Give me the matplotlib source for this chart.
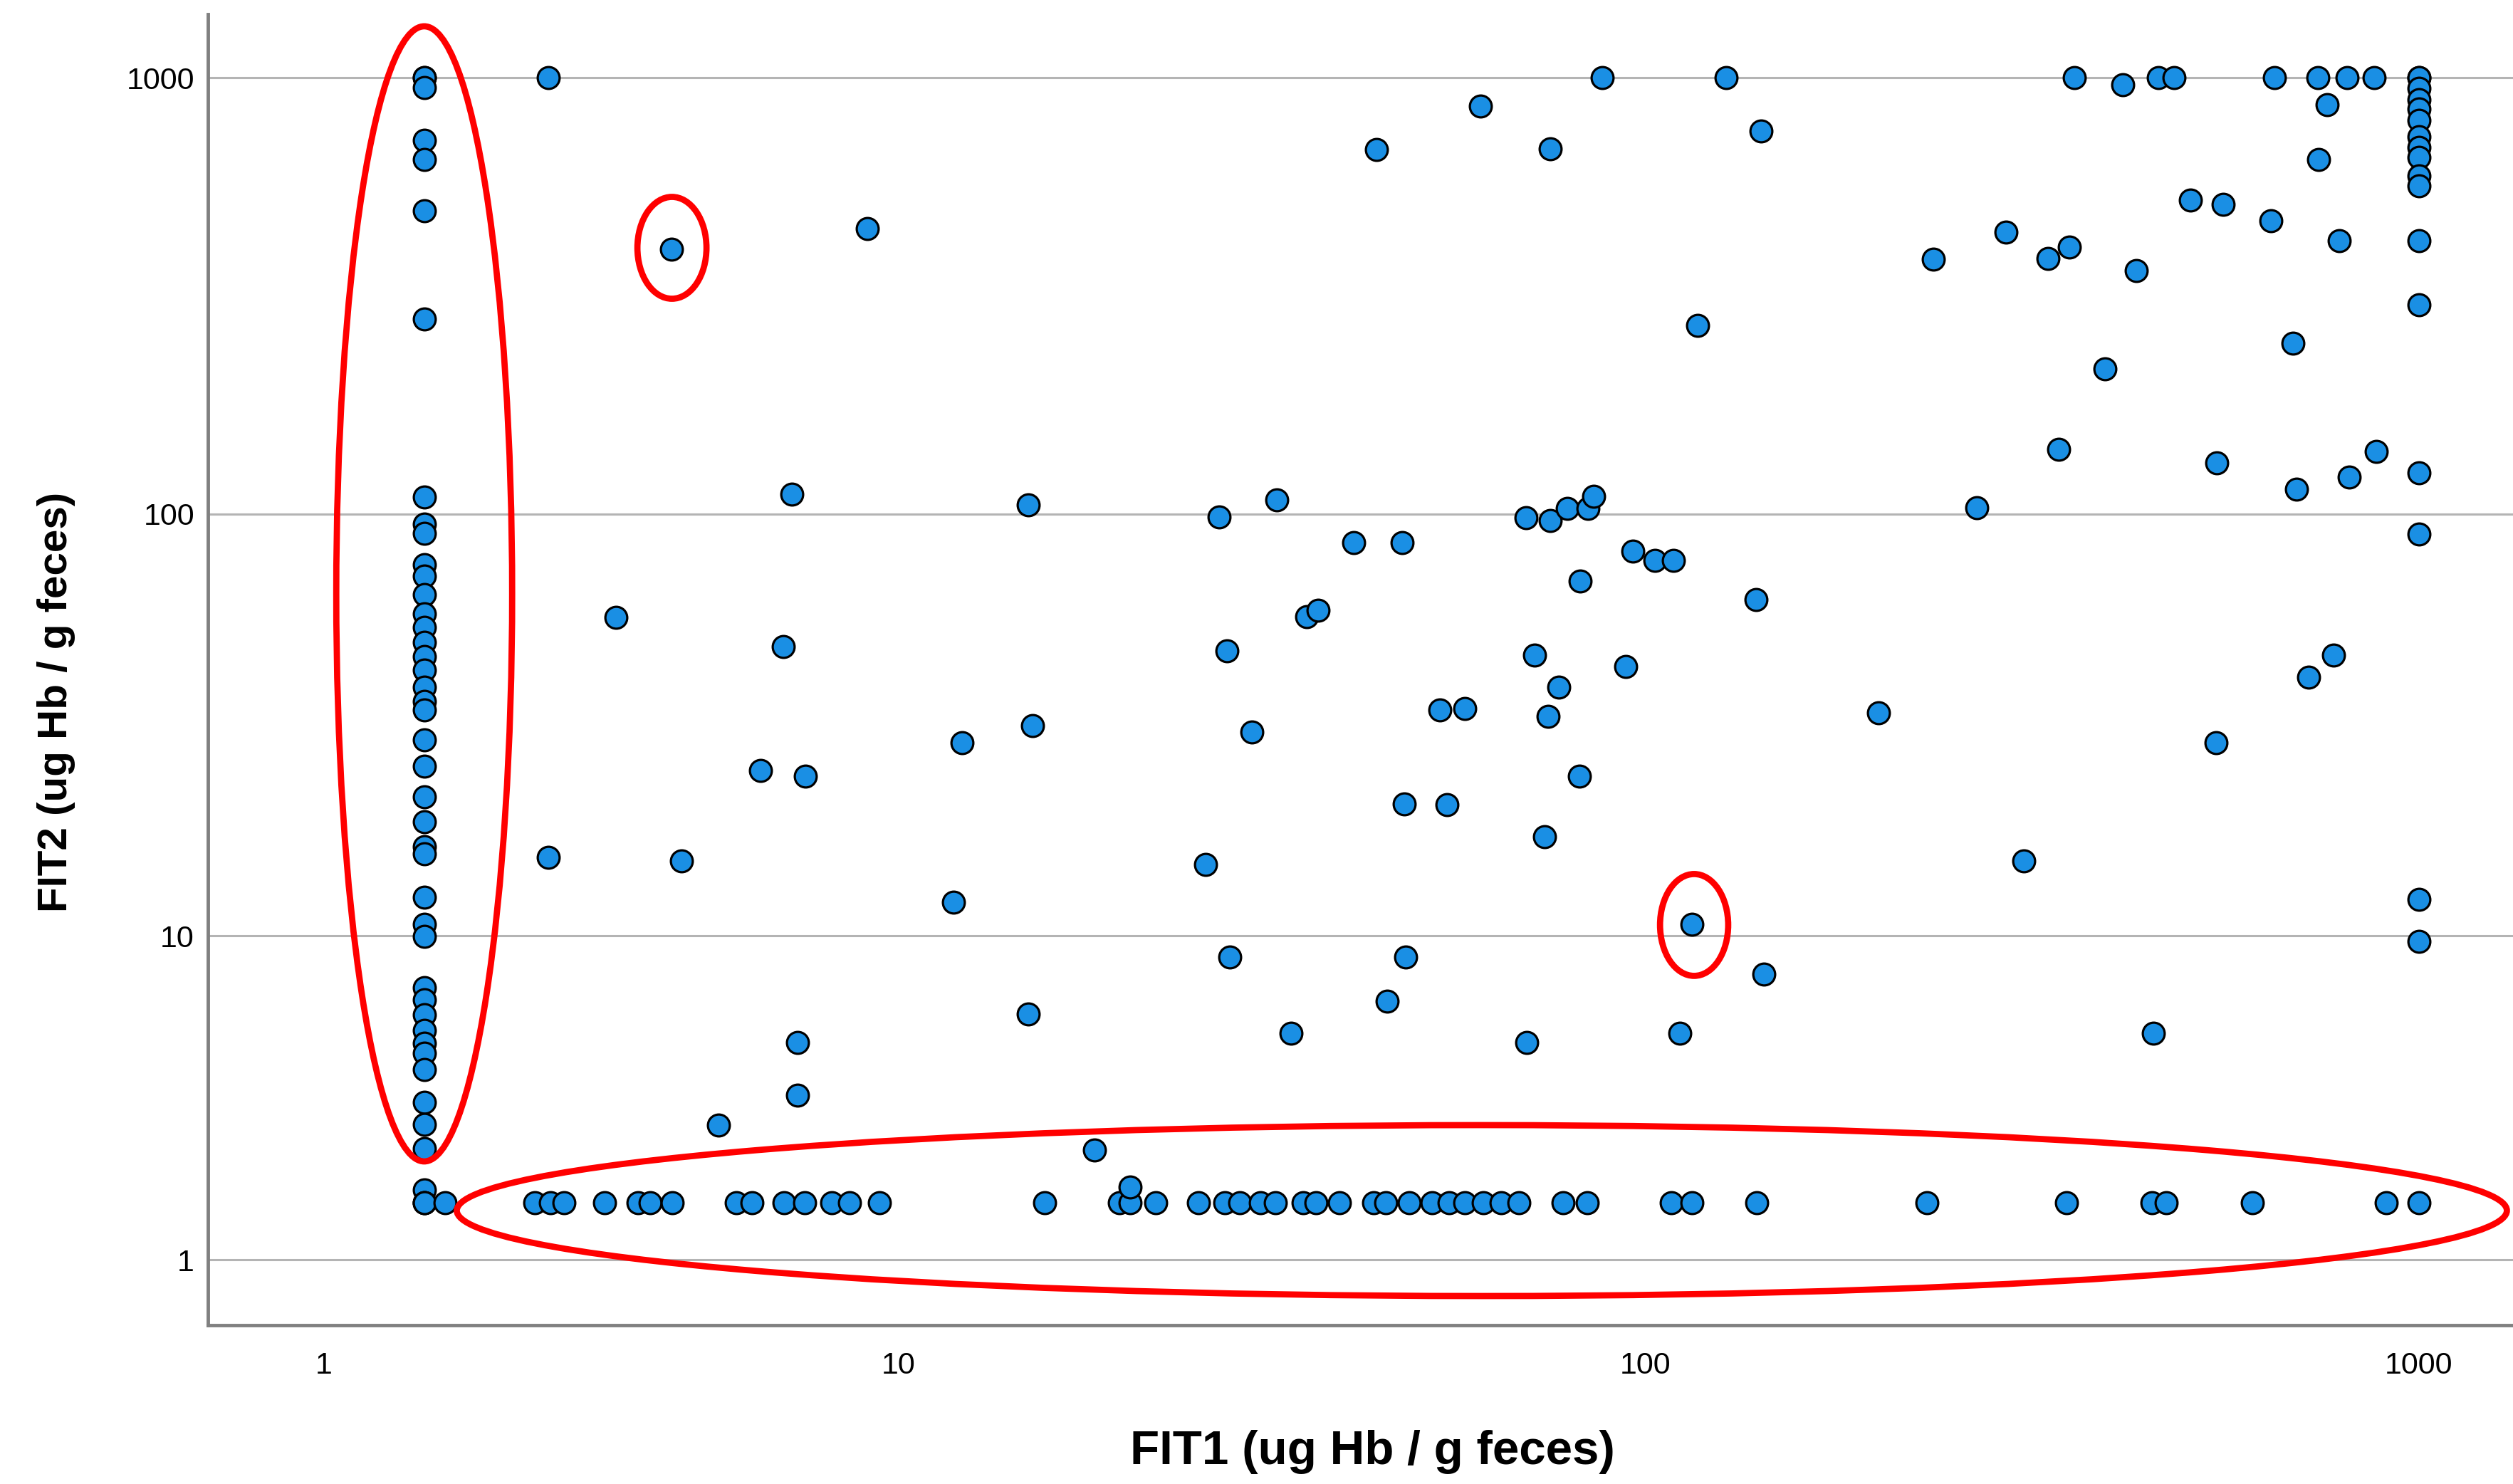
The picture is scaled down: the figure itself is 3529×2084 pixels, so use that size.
import numpy as np
import matplotlib
matplotlib.use("Agg")
import matplotlib.pyplot as plt
from matplotlib.patches import Ellipse

plt.rcParams['font.family'] = ['Liberation Sans', 'DejaVu Sans']

# ---- data (ug Hb / g feces) ----
# FIT1 below detection (1.7) column
fit2_lowcol = [1000, 1000, 950, 720, 650, 496, 281, 109.5, 95, 90.4, 76.4, 72, 65.2,
               58.9, 54.6, 50.5, 46.8, 43.4, 39.7, 36.7, 35.1, 29.8, 25.8, 21.8, 19.0,
               16.6, 15.9, 12.45, 10.7, 9.97, 7.38, 6.86, 6.25, 5.69, 5.25, 4.94, 4.45,
               3.59, 3.08, 2.59, 1.89, 1.7, 1.7, 1.7]
fit1_lowcol = [1.7] * len(fit2_lowcol)

# FIT2 below detection (1.7) row
fit1_lowrow = [1.87, 2.74, 2.92, 3.08, 3.60, 4.09, 4.27, 4.63, 5.80, 6.13, 6.84, 7.33,
               8.03, 8.53, 9.40, 16.0, 20.2, 20.9, 22.6, 25.8, 28.0, 29.3, 31.2, 32.7,
               35.6, 37.0, 39.7, 44.1, 45.7, 49.1, 52.6, 55.4, 58.1, 61.4, 64.8, 68.4,
               78.0, 84.0, 108, 115, 139.5, 231.5, 351, 453, 472, 610, 909, 1000]
fit2_lowrow = [1.7] * len(fit1_lowrow)

# FIT1 saturated (1000) column
fit2_highcol = [1000, 1000, 947, 893, 849, 800, 735, 693, 659, 596, 566, 425, 303,
                124.5, 90.1, 12.3, 9.7]
fit1_highcol = [1000] * len(fit2_highcol)

# remaining paired measurements
fit1_other = [2.90, 4.62, 9.04, 7.02, 15.2, 3.76, 6.83, 12.3, 15.4, 6.32, 7.35, 2.90,
              4.78, 11.96, 15.2, 7.17, 7.17, 5.45, 18.7, 20.9, 87.8, 127.3, 60.9, 44.5,
              75.2, 141.2, 116.8, 27.5, 32.8, 41.5, 48.1, 69.8, 75.2, 79.1, 84.2, 85.6,
              96.2, 102.9, 108.8, 82.2, 139.3, 36.0, 37.2, 28.2, 71.6, 94.2, 77.1, 53.9,
              58.1, 74.6, 30.4, 82.0, 48.4, 55.1, 73.8, 26.4, 114.8, 28.4, 48.6, 142.6,
              45.9, 34.3, 70.05, 110.9, 359, 415, 461, 483, 652, 741, 809, 876, 762,
              742, 508, 559, 645, 790, 293, 236, 332, 354, 432, 688, 394, 343, 549, 882,
              814, 695, 269, 200.8, 776, 720.6, 547.6, 309, 455]
fit2_other = [1000, 405, 452, 111, 105, 57.7, 49.4, 29.4, 32.2, 25.2, 24.5, 15.6,
              15.3, 12.1, 6.29, 5.28, 3.75, 3.07, 2.57, 1.94, 1000, 1000, 862, 687,
              689, 755, 271.5, 98.5, 108, 85.9, 85.9, 98, 96.7, 103.2, 103, 110,
              82, 78.3, 78.3, 70.1, 63.4, 58, 60, 48.2, 47.2, 44.4, 39.7, 35.1,
              35.4, 33.9, 31.1, 24.5, 21.0, 20.9, 17.5, 15.0, 10.7, 8.84, 8.84, 7.98,
              6.80, 5.59, 5.28, 5.59, 1000, 966, 1000, 1000, 1000, 1000, 1000, 1000, 870,
              650, 526, 513, 471, 424, 444, 385, 386, 410, 363, 247, 216, 141, 131.4, 139.5,
              121.6, 114, 103.6, 34.5, 47.1, 41.9, 29.4, 15.3, 5.59]

tick_values = [1, 10, 100, 1000]
tick_labels = ['1', '10', '100', '1000']

fit1 = np.array(fit1_lowcol + fit1_lowrow + fit1_highcol + fit1_other, dtype=float)
fit2 = np.array(fit2_lowcol + fit2_lowrow + fit2_highcol + fit2_other, dtype=float)

# ---- figure ----
W, H = 3529, 2084
fig = plt.figure(figsize=(W / 100, H / 100), dpi=100)
ax = fig.add_axes([0.08286, 0.10715, 0.91714, 0.88325])


def fwd(v):
    v = np.asarray(v, dtype=float)
    return np.log10(np.clip(v, -0.999999, None) + 1.0)


def inv(u):
    return 10.0 ** np.asarray(u, dtype=float) - 1.0


ax.set_xscale('function', functions=(fwd, inv))
ax.set_yscale('function', functions=(fwd, inv))
ax.set_xlim(0.421, 1323)
ax.set_ylim(0.421, 1398)

ax.scatter(fit1, fit2, s=490, c='#1a8fe4', edgecolors='black', linewidths=2.3,
           zorder=3, clip_on=False)

ax.set_xticks(tick_values)
ax.set_xticklabels(tick_labels)
ax.set_yticks(tick_values)
ax.set_yticklabels(tick_labels)
ax.minorticks_off()
ax.tick_params(axis='both', length=0, labelsize=31, colors='black')
ax.tick_params(axis='x', pad=27)
ax.tick_params(axis='y', pad=14)

ax.yaxis.grid(True, color='#b4b4b4', linewidth=2.2)
ax.xaxis.grid(False)
ax.set_axisbelow(True)

for s in ['top', 'right']:
    ax.spines[s].set_visible(False)
for s in ['left', 'bottom']:
    ax.spines[s].set_color('#808080')
    ax.spines[s].set_linewidth(3.5)

# red annotation ellipses (axes fractions)
ellipses = [((0.09371, 0.5578), 0.07631, 0.8660),
            ((0.2012, 0.8218), 0.02997, 0.07769),
            ((0.6447, 0.3052), 0.02957, 0.07769),
            ((0.5526, 0.0873), 0.8895, 0.1304)]
for c, w, h in ellipses:
    ax.add_patch(Ellipse(c, w, h, transform=ax.transAxes, fill=False,
                         edgecolor='#ff0000', linewidth=6.3, zorder=4, clip_on=False))

fig.text(0.5461, 0.0216, 'FIT1 (ug Hb / g feces)', ha='center', va='center',
         fontsize=48.5, fontweight='bold')
fig.text(0.0224, 0.5269, 'FIT2 (ug Hb / g feces)', ha='center', va='center',
         fontsize=42, fontweight='bold', rotation=90)

fig.savefig('out.png', dpi=100)
